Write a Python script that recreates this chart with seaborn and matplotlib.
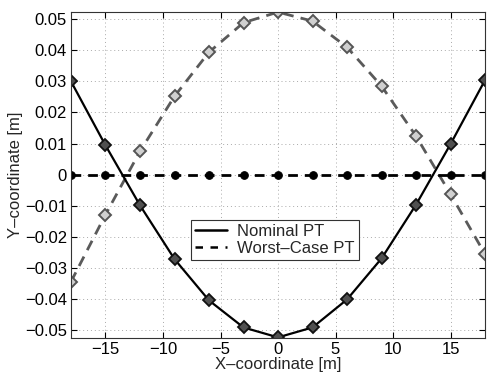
import matplotlib
matplotlib.use("Agg")
import matplotlib.pyplot as plt
import seaborn as sns
import pandas as pd
from matplotlib.lines import Line2D

x_vals = [-18, -15, -12, -9, -6, -3, 0, 3, 6, 9, 12, 15, 18]
nominal = [0.0300, 0.0094, -0.0099, -0.0272, -0.0405, -0.0492, -0.0524,
           -0.0492, -0.0402, -0.0270, -0.0097, 0.0098, 0.0304]
worst = [-0.0345, -0.0129, 0.0075, 0.0252, 0.0394, 0.0489, 0.0523,
         0.0494, 0.0410, 0.0285, 0.0124, -0.0063, -0.0256]
zero_line = [0.0] * len(x_vals)

x_ticks = [-15, -10, -5, 0, 5, 10, 15]
y_ticks = [-0.05, -0.04, -0.03, -0.02, -0.01, 0, 0.01, 0.02, 0.03, 0.04, 0.05]
y_tick_labels = ["\u22120.05", "\u22120.04", "\u22120.03", "\u22120.02", "\u22120.01",
                 "0", "0.01", "0.02", "0.03", "0.04", "0.05"]
x_tick_labels = ["\u221215", "\u221210", "\u22125", "0", "5", "10", "15"]

sns.set_style("white")
plt.rcParams['font.family'] = ['Liberation Sans', 'DejaVu Sans']

df = pd.DataFrame({"x": x_vals, "nominal": nominal, "worst": worst, "zero": zero_line})

fig = plt.figure(figsize=(4.92, 3.78), dpi=100)
ax = fig.add_axes([0.1443, 0.1058, 0.8415, 0.8622])

sns.lineplot(data=df, x="x", y="worst", ax=ax, color="#5a5a5a", linewidth=2.0,
             linestyle=(0, (3.8, 2.6)), marker="D", markersize=6.5,
             markerfacecolor="#d0d0d0", markeredgecolor="#555555", markeredgewidth=1.4)
sns.lineplot(data=df, x="x", y="nominal", ax=ax, color="black", linewidth=1.6,
             marker="D", markersize=6.5, markerfacecolor="#505050",
             markeredgecolor="#111111", markeredgewidth=1.3)
sns.lineplot(data=df, x="x", y="zero", ax=ax, color="black", linewidth=2.0,
             linestyle=(0, (3.5, 2.5)), marker="o", markersize=5.5,
             markerfacecolor="black", markeredgecolor="black")

ax.set_xlim(-18, 18)
ax.set_ylim(min(nominal) - 0.0002, max(worst))
ax.set_xticks(x_ticks)
ax.set_xticklabels(x_tick_labels)
ax.set_yticks(y_ticks)
ax.set_yticklabels(y_tick_labels)
ax.tick_params(direction="in", length=4, width=0.8, labelsize=12, colors="black",
               top=True, right=True, bottom=True, left=True, pad=3)
ax.grid(True, linestyle=(0, (1, 3)), color="#aaaaaa", linewidth=0.7)
for s in ax.spines.values():
    s.set_color("#333333")
    s.set_linewidth(0.8)

ax.set_xlabel("X\u2013coordinate [m]", fontsize=12, labelpad=0)
ax.set_ylabel("Y\u2013coordinate [m]", fontsize=12, labelpad=1)

handles = [Line2D([], [], color="black", linewidth=1.8),
           Line2D([], [], color="black", linewidth=1.8, linestyle=(0, (3, 3)))]
leg = ax.legend(handles, ["Nominal PT", "Worst\u2013Case PT"], loc="lower left",
                bbox_to_anchor=(0.29, 0.239), borderaxespad=0, fontsize=12, frameon=True,
                fancybox=False, framealpha=1, edgecolor="#333333",
                handlelength=1.9, borderpad=0.25, labelspacing=0.1, handletextpad=0.6)
leg.get_frame().set_linewidth(0.8)

fig.savefig("out.png", dpi=100)
